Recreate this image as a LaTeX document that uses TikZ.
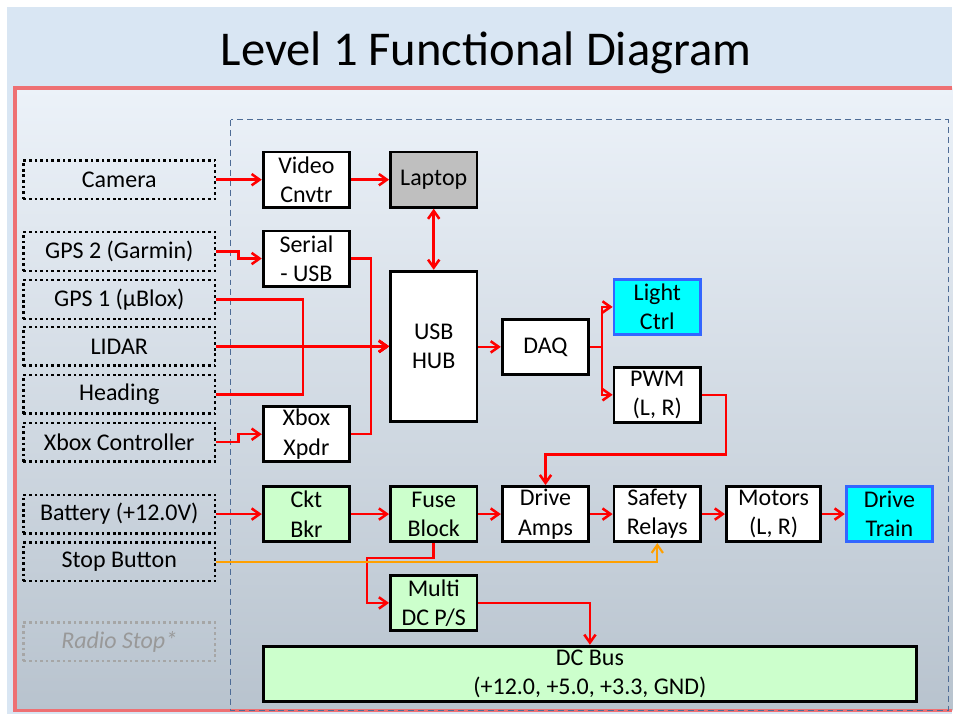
\documentclass[tikz,border=0pt]{standalone}
\usepackage{fontspec}
\setmainfont{Carlito}
\usetikzlibrary{arrows.meta}

\definecolor{bgblue}{RGB}{217,230,243}
\definecolor{innertop}{RGB}{236,242,249}
\definecolor{innerbot}{RGB}{184,195,206}
\definecolor{framered}{RGB}{238,112,115}
\definecolor{dashblue}{RGB}{78,108,150}
\definecolor{boxgreen}{RGB}{204,255,204}
\definecolor{boxcyan}{RGB}{0,255,255}
\definecolor{cyanedge}{RGB}{51,102,255}
\definecolor{laptopgray}{RGB}{191,191,191}
\definecolor{wirered}{RGB}{255,0,0}
\definecolor{wireorange}{RGB}{255,160,0}

\begin{document}
\begin{tikzpicture}[x=0.75pt, y=-0.75pt,
                    >={Straight Barb[length=6pt,width=8.5pt]},
                    every node/.style={font=\fontsize{18}{22}\selectfont},
                    srcnode/.style={draw, dash pattern=on 2pt off 2.2pt, line width=1.8pt, minimum width=144pt, minimum height=29pt, inner sep=0pt},
                    blknode/.style={draw, fill=white, line width=2.1pt, minimum width=65pt, minimum height=41.5pt, align=center, inner sep=0pt},
                    pwrnode/.style={blknode, fill=boxgreen},
                    outnode/.style={blknode, fill=boxcyan, draw=cyanedge},
                    wire/.style={draw=wirered, line width=1.9pt, ->},
                    stopwire/.style={draw=wireorange, line width=1.6pt, ->},
                ]
                    %Background
                    \fill[white] (0,0) rectangle (954,715);
                    \fill[bgblue] (7,7) rectangle (954,715);
                    \shade[top color=innertop, bottom color=innerbot] (15,88) rectangle (954,712);
                    \draw[framered, line width=2.6pt] (954,88) -- (15,88) -- (15,712) -- (954,712);
                    \draw[dashblue, line width=1pt, dash pattern=on 4.5pt off 3pt] (231,120) rectangle (950,712);
                    \node (title) at (487,53) {\fontsize{36.5}{40}\selectfont Level 1 Functional Diagram};

                    %Sources
                    \node[srcnode](camera) at (119.5,180) {Camera};
                    \node[srcnode](gpsb) at (119.5,252) {GPS 2 (Garmin)};
                    \node[srcnode](gpsa) at (119.5,300) {GPS 1 (µBlox)};
                    \node[srcnode](lidar) at (119.5,347) {LIDAR};
                    \node[srcnode](heading) at (119.5,395) {Heading};
                    \node[srcnode](xboxc) at (119.5,443) {Xbox Controller};
                    \node[srcnode](battery) at (119.5,515) {Battery (+12.0V)};
                    \node[srcnode](stopbtn) at (119.5,563) {Stop Button};
                    \node[srcnode, draw=gray!70, text=gray!80, font=\fontsize{18}{22}\selectfont\itshape](radio) at (119.5,643) {Radio Stop*};

                    %Blocks
                    \node[blknode](video) at (307,180) {Video\\Cnvtr};
                    \node[blknode](serial) at (307,259) {Serial\\- USB};
                    \node[blknode](xpdr) at (307,435) {Xbox\\Xpdr};
                    \node[pwrnode](ckt) at (307,515) {Ckt\\Bkr};
                    \node[blknode, fill=laptopgray](laptop) at (434.5,180) {Laptop};
                    \node[blknode, minimum height=113pt](usbhub) at (434.5,347) {USB\\HUB};
                    \node[pwrnode](fuse) at (434.5,515) {Fuse\\Block};
                    \node[pwrnode](multi) at (434.5,604) {Multi\\DC P/S};
                    \node[blknode](daq) at (546.5,347.5) {DAQ};
                    \node[blknode](amps) at (546.5,515) {Drive\\Amps};
                    \node[outnode](light) at (658.5,307.5) {Light\\Ctrl};
                    \node[blknode](pwm) at (658.5,395.5) {PWM\\(L, R)};
                    \node[blknode](safety) at (658.5,515) {Safety\\Relays};
                    \node[blknode, minimum width=71pt](motors) at (775,515) {Motors\\(L, R)};
                    \node[outnode](train) at (891,515) {Drive\\Train};
                    \node[pwrnode, minimum width=491pt](dcbus) at (591,675) {DC Bus\\(+12.0, +5.0, +3.3, GND)};

                    %Lines
                    \draw[wire](camera.east) -- (camera.east -| video.west);
                    \draw[wire](video.east) -- (video.east -| laptop.west);
                    \draw[wire, <->](laptop.south) -- (usbhub.north);
                    \draw[wire](gpsb.east) -- ++(22,0) |- (serial.west);
                    \draw[wire](xboxc.east) -- ++(22,0) |- (xpdr.west);
                    \draw[wire](serial.east) -- ++(20,0) |- (usbhub.west);
                    \draw[wire](xpdr.east) -- ++(20,0) |- (usbhub.west);
                    \draw[wire](gpsa.east) -- ++(87,0) |- (usbhub.west);
                    \draw[wire](heading.east) -- ++(87,0) |- (usbhub.west);
                    \draw[wire](lidar.east) -- (usbhub.west);
                    \draw[wire](usbhub.east |- daq.west) -- (daq.west);
                    \draw[wire](daq.east) -- ++(12,0) |- (light.west);
                    \draw[wire](daq.east) -- ++(12,0) |- (pwm.west);
                    \draw[wire](pwm.east) -- ++(24,0) -- ++(0,60) -| (amps.north);
                    \draw[wire](battery.east) -- (ckt.west);
                    \draw[wire](ckt.east) -- (fuse.west);
                    \draw[wire](fuse.east) -- (amps.west);
                    \draw[wire](amps.east) -- (safety.west);
                    \draw[wire](safety.east) -- (motors.west);
                    \draw[wire](motors.east) -- (train.west);
                    \draw[wire](fuse.south) -- ++(0,15) -- ++(-67,0) |- (multi.west);
                    \draw[wire](multi.east) -| (dcbus.north);
                    \draw[stopwire](stopbtn.east) -| (safety.south);
                \end{tikzpicture}
\end{document}
